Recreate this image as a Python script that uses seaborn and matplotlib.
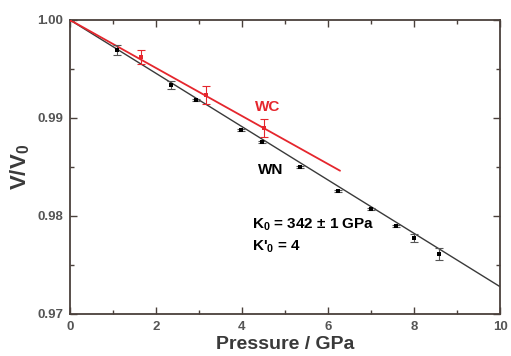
import numpy as np
import pandas as pd
import matplotlib
matplotlib.use("Agg")
import matplotlib.pyplot as plt
import seaborn as sns

# WN data
wn_p = [0.0, 1.09, 2.35, 2.92, 3.97, 4.46, 5.36, 6.24, 7.00, 7.58, 8.01, 8.57]
wn_v = [1.0000, 0.99694, 0.99337, 0.99181, 0.98878, 0.98758, 0.98497, 0.98255, 0.98069, 0.97898, 0.97776, 0.97612]
wn_err = [0.0001, 0.0005, 0.0004, 0.0001, 0.0001, 0.0001, 0.0001, 0.0001, 0.0001, 0.0001, 0.0004, 0.0006]
# WC data
wc_p = [0.0, 1.64, 3.16, 4.51]
wc_v = [1.0000, 0.99626, 0.99235, 0.98901]
wc_err = [0.0001, 0.0007, 0.0009, 0.0009]
# fit lines
wn_fit_p = [0.0, 10.0]
wn_fit_v = [1.0000, 0.97279]
wc_fit_p = [0.0, 6.28]
wc_fit_v = [1.0000, 0.98462]

x_ticks = [0, 2, 4, 6, 8, 10]
y_ticks = [0.97, 0.98, 0.99, 1.00]
y_tick_labels = ["0.97", "0.98", "0.99", "1.00"]

sns.set_style("ticks")
plt.rcParams["font.family"] = ["Liberation Sans", "DejaVu Sans"]
plt.rcParams["mathtext.default"] = "regular"

RED = "#e5262d"
AX = "#4a403b"

fig = plt.figure(figsize=(5.11, 3.56), dpi=100)
ax = fig.add_axes([70/511, 42/356, 430/511, 294/356])

wn = pd.DataFrame({"p": wn_p, "v": wn_v})
wc = pd.DataFrame({"p": wc_p, "v": wc_v})

sns.lineplot(x=wn_fit_p, y=wn_fit_v, ax=ax, color="#3a3a3a", lw=1.0)
sns.lineplot(x=wc_fit_p, y=wc_fit_v, ax=ax, color=RED, lw=1.3)

ax.errorbar(wn_p, wn_v, yerr=wn_err, fmt="none", ecolor="#555555", elinewidth=0.8, capsize=3, capthick=0.8)
ax.errorbar(wc_p, wc_v, yerr=wc_err, fmt="none", ecolor=RED, elinewidth=0.8, capsize=3, capthick=0.8)
sns.scatterplot(data=wn, x="p", y="v", ax=ax, color="black", marker="s", s=10, edgecolor="black", linewidth=0, zorder=5)
sns.scatterplot(data=wc, x="p", y="v", ax=ax, color=RED, marker="s", s=12, edgecolor=RED, linewidth=0, zorder=6)

ax.set_xlim(0, 10)
ax.set_ylim(0.97, 1.00)
ax.set_xticks(x_ticks)
ax.set_xticks(np.arange(1, 10, 2), minor=True)
ax.set_yticks(y_ticks)
ax.set_yticklabels(y_tick_labels)
ax.set_yticks([0.975, 0.985, 0.995], minor=True)
ax.tick_params(which="both", direction="in", top=True, right=True, color=AX,
               labelsize=9.5, labelcolor="#555555", width=1.0)
ax.tick_params(which="major", length=5, pad=5)
ax.tick_params(which="minor", length=3)
for lab in ax.get_xticklabels() + ax.get_yticklabels():
    lab.set_fontweight("bold")
for s in ax.spines.values():
    s.set_color(AX)
    s.set_linewidth(1.3)

ax.set_xlabel("Pressure / GPa", fontsize=14, fontweight="bold", color="#3a3a3a", labelpad=2)
ax.set_ylabel("V/V$_0$", fontsize=16, fontweight="bold", color="#3a3a3a", labelpad=4)

ax.text(4.30, 0.99112, "WC", color=RED, fontsize=11, fontweight="bold", va="center")
ax.text(4.37, 0.98469, "WN", color="black", fontsize=11, fontweight="bold", va="center")
ax.text(4.23, 0.97908, "K$_0$ = 342 ± 1 GPa", color="black", fontsize=11, fontweight="bold", va="center")
ax.text(4.23, 0.97684, "K'$_0$ = 4", color="black", fontsize=11, fontweight="bold", va="center")

fig.savefig("out.png", dpi=100)
